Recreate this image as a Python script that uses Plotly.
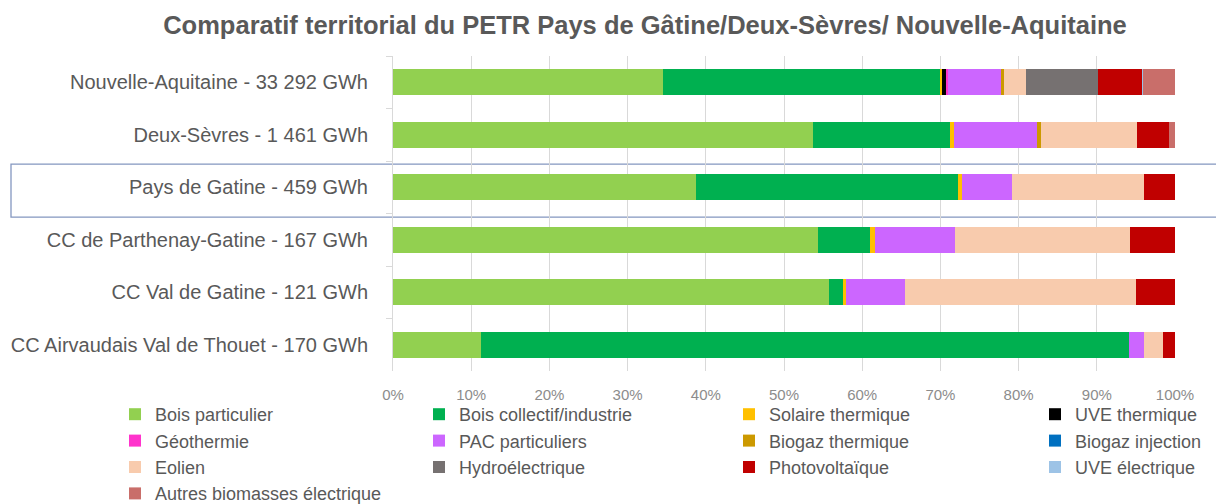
import plotly.graph_objects as go

categories = [
    "Nouvelle-Aquitaine - 33 292 GWh",
    "Deux-Sèvres - 1 461 GWh",
    "Pays de Gatine - 459 GWh",
    "CC de Parthenay-Gatine - 167 GWh",
    "CC Val de Gatine - 121 GWh",
    "CC Airvaudais Val de Thouet - 170 GWh",
]
highlight = "Pays de Gatine - 459 GWh"

series_names = [
    "Bois particulier", "Bois collectif/industrie", "Solaire thermique", "UVE thermique",
    "Géothermie", "PAC particuliers", "Biogaz thermique", "Biogaz injection",
    "Eolien", "Hydroélectrique", "Photovoltaïque", "UVE électrique",
    "Autres biomasses électrique",
]
colors = [
    "#92D050", "#00B050", "#FFC000", "#000000",
    "#FF33CC", "#CC66FF", "#CC9900", "#0070C0",
    "#F8CBAD", "#767171", "#C00000", "#9DC3E6",
    "#C96E6A",
]

# shares in % per category (same order as categories)
bois_particulier = [34.5, 53.7, 38.7, 54.3, 55.7, 11.3]
bois_collectif = [35.4, 17.5, 33.6, 6.7, 1.8, 82.8]
solaire_thermique = [0.3, 0.6, 0.4, 0.7, 0.4, 0.0]
uve_thermique = [0.6, 0.0, 0.0, 0.0, 0.0, 0.0]
geothermie = [0.2, 0.0, 0.0, 0.0, 0.0, 0.0]
pac_particuliers = [6.8, 10.6, 6.4, 10.2, 7.6, 1.9]
biogaz_thermique = [0.3, 0.4, 0.0, 0.0, 0.0, 0.0]
biogaz_injection = [0.0, 0.0, 0.0, 0.0, 0.0, 0.0]
eolien = [2.9, 12.3, 16.9, 22.4, 29.5, 2.5]
hydroelectrique = [9.2, 0.0, 0.0, 0.0, 0.0, 0.0]
photovoltaique = [5.6, 4.1, 4.0, 5.7, 5.0, 1.5]
uve_electrique = [0.1, 0.0, 0.0, 0.0, 0.0, 0.0]
autres_biomasses = [4.1, 0.8, 0.0, 0.0, 0.0, 0.0]

series_values = [
    bois_particulier, bois_collectif, solaire_thermique, uve_thermique,
    geothermie, pac_particuliers, biogaz_thermique, biogaz_injection,
    eolien, hydroelectrique, photovoltaique, uve_electrique, autres_biomasses,
]

x_ticks = [0, 10, 20, 30, 40, 50, 60, 70, 80, 90, 100]
x_tick_labels = [f"{t}%" for t in x_ticks]

GREY = "#595959"
FONT = "Liberation Sans, Arial, sans-serif"

legend_ids = ["legend", "legend2", "legend3", "legend4"]

fig = go.Figure()
for i, (name, vals, col) in enumerate(zip(series_names, series_values, colors)):
    fig.add_trace(go.Bar(
        y=categories, x=vals, name=name, orientation="h",
        marker=dict(color=col, line=dict(width=0)),
        legend=legend_ids[i % 4],
        legendgroup=name,
        hovertemplate="%{y}<br>" + name + ": %{x}%<extra></extra>",
    ))

# page has an 8px body margin: figure is laid out in its own coordinates
OFF = 8
W, H = 1224 - OFF, 504 - OFF
L, R = 393 - OFF, 49
T = 56 - OFF
B = H - (371 - OFF)
pw = W - L - R
ph = H - T - B

def paper_x(page_px):
    return (page_px - OFF - L) / pw

def paper_y(page_py):
    return (H - B - (page_py - OFF)) / ph

legend_text_x = [155, 459, 769, 1075]
legend_common = dict(
    orientation="v", xanchor="left", yanchor="top",
    font=dict(family=FONT, size=18, color=GREY),
    bgcolor="rgba(0,0,0,0)", itemwidth=30, tracegroupgap=0,
    itemclick=False, itemdoubleclick=False,
)
legends = {}
for k, lid in enumerate(legend_ids):
    legends[lid] = dict(legend_common, x=paper_x(legend_text_x[k] - 40),
                        y=paper_y(396))

idx = categories.index(highlight)
fig.add_shape(
    type="rect", xref="paper", yref="y",
    x0=paper_x(11), x1=paper_x(1240),
    y0=idx - 0.44, y1=idx + 0.57,
    line=dict(color="#8497C0", width=1.3), fillcolor="rgba(0,0,0,0)",
    layer="below",
)

fig.update_layout(
    width=W, height=H,
    margin=dict(l=L, r=R, t=T, b=B, autoexpand=False),
    paper_bgcolor="white", plot_bgcolor="white",
    barmode="stack", bargap=0.5,
    title=dict(
        text="<b>Comparatif territorial du PETR Pays de Gâtine/Deux-Sèvres/ Nouvelle-Aquitaine</b>",
        x=(645 - OFF) / W, xanchor="center", y=1 - (25 - OFF) / H, yanchor="middle",
        font=dict(family=FONT, size=25.5, color=GREY),
    ),
    xaxis=dict(
        range=[0, 100], tickvals=x_ticks, ticktext=x_tick_labels,
        showgrid=True, gridcolor="#D9D9D9", gridwidth=1,
        zeroline=False, showline=False, ticks="",
        tickfont=dict(family=FONT, size=15, color="#8C8C8C"),
        ticklabelstandoff=13, fixedrange=True,
    ),
    yaxis=dict(
        categoryorder="array", categoryarray=categories, autorange="reversed",
        showline=True, linecolor="#D9D9D9", linewidth=1,
        ticks="outside", tickson="boundaries", ticklen=6, tickcolor="#D9D9D9",
        tickfont=dict(family=FONT, size=20, color=GREY),
        ticklabelstandoff=20, showgrid=False, fixedrange=True,
    ),
    showlegend=True,
    **legends,
)

fig.write_html("out.html")
